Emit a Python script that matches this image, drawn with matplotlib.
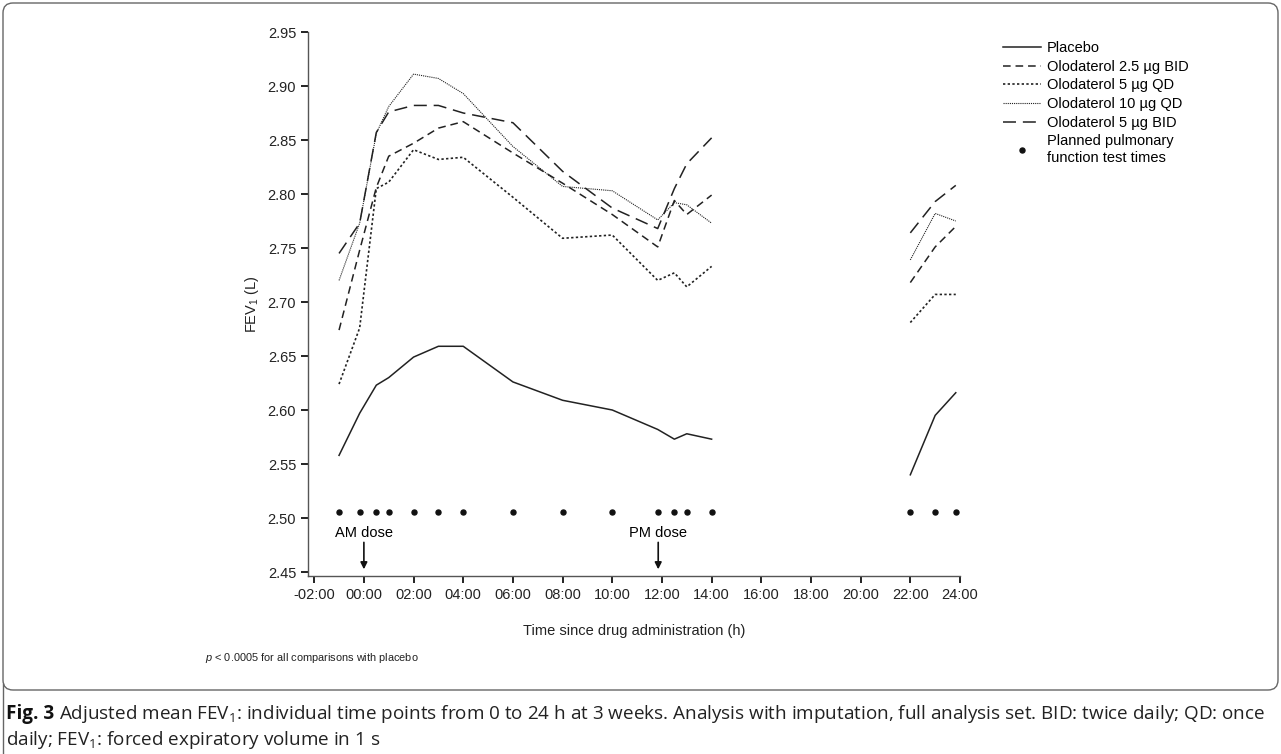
import numpy as np
import matplotlib
matplotlib.use("Agg")
import matplotlib.pyplot as plt
from matplotlib.lines import Line2D
from matplotlib.patches import FancyBboxPatch

plt.rcParams['font.family'] = ['Liberation Sans', 'DejaVu Sans']
plt.rcParams['mathtext.fontset'] = 'custom'
plt.rcParams['mathtext.rm'] = 'Liberation Sans'
plt.rcParams['mathtext.it'] = 'Liberation Sans:italic'

# time points (h) of the pulmonary function tests
times = [-1, -0.17, 0.5, 1, 2, 3, 4, 6, 8, 10, 11.83, 12.5, 13, 14, 22, 23, 23.83]
n_day = 14  # first block is 0-14 h, then the 22-24 h block

placebo = [2.558, 2.597, 2.623, 2.630, 2.649, 2.659, 2.659, 2.626, 2.609, 2.600,
           2.582, 2.573, 2.578, 2.573, 2.540, 2.595, 2.616]
olo_25_bid = [2.674, 2.748, 2.806, 2.835, 2.847, 2.861, 2.867, 2.838, 2.810, 2.781,
              2.751, 2.794, 2.781, 2.799, 2.718, 2.751, 2.770]
olo_5_qd = [2.624, 2.676, 2.805, 2.811, 2.841, 2.832, 2.834, 2.797, 2.759, 2.762,
            2.720, 2.727, 2.714, 2.733, 2.681, 2.707, 2.707]
olo_10_qd = [2.720, 2.773, 2.856, 2.881, 2.911, 2.907, 2.893, 2.844, 2.807, 2.803,
             2.776, 2.792, 2.790, 2.773, 2.739, 2.782, 2.775]
olo_5_bid = [2.745, 2.773, 2.857, 2.876, 2.882, 2.882, 2.875, 2.866, 2.821, 2.787,
             2.768, 2.805, 2.828, 2.852, 2.764, 2.793, 2.808]
pft_level = 2.506

x_ticks = list(range(-2, 25, 2))
x_labels = ['-02:00'] + ['%02d:00' % h for h in range(0, 25, 2)]
y_ticks = [2.45, 2.50, 2.55, 2.60, 2.65, 2.70, 2.75, 2.80, 2.85, 2.90, 2.95]

series = [
    ('Placebo', placebo, dict(linestyle='-', lw=1.1)),
    ('Olodaterol 2.5 \u00b5g BID', olo_25_bid, dict(lw=1.1, dashes=(5, 3.2))),
    ('Olodaterol 5 \u00b5g QD', olo_5_qd, dict(lw=1.2, dashes=(1.4, 1.4))),
    ('Olodaterol 10 \u00b5g QD', olo_10_qd, dict(lw=0.8, dashes=(1, 0.9))),
    ('Olodaterol 5 \u00b5g BID', olo_5_bid, dict(lw=1.1, dashes=(8.5, 4.5))),
]

fig = plt.figure(figsize=(12.81, 7.54), dpi=100)
ax = fig.add_axes([308 / 1281, 1 - 576 / 754, (960 - 308) / 1281, (576 - 32) / 754])

t = np.array(times)
for label, vals, style in series:
    v = np.array(vals)
    ax.plot(t[:n_day], v[:n_day], color='#222222', label=label, **style)
    ax.plot(t[n_day:], v[n_day:], color='#222222', **style)

ax.plot(times, [pft_level] * len(times), 'o', color='#111111', ms=3.6, ls='none',
        label='Planned pulmonary\nfunction test times')

ax.annotate('AM dose', xy=(0, 2.4525), xytext=(0, 2.480), ha='center', va='bottom',
            fontsize=10.5, arrowprops=dict(arrowstyle='-|>', color='#111111', lw=1.2,
                                           mutation_scale=10, shrinkA=0, shrinkB=0))
ax.annotate('PM dose', xy=(11.85, 2.4525), xytext=(11.85, 2.480), ha='center', va='bottom',
            fontsize=10.5, arrowprops=dict(arrowstyle='-|>', color='#111111', lw=1.2,
                                           mutation_scale=10, shrinkA=0, shrinkB=0))

ax.set_xlim(-2.25, 24)
ax.set_ylim(2.4463, 2.95)
ax.set_xticks(x_ticks)
ax.set_xticklabels(x_labels)
ax.set_yticks(y_ticks)
ax.set_yticklabels(['%.2f' % y for y in y_ticks])
ax.tick_params(direction='out', length=5, width=1.4, labelsize=10.5, color='#222222',
               labelcolor='#222222')
for s in ['top', 'right']:
    ax.spines[s].set_visible(False)
for s in ['left', 'bottom']:
    ax.spines[s].set_color('#555555')
    ax.spines[s].set_linewidth(1.0)

ax.set_xlabel('Time since drug administration (h)', fontsize=10.5, labelpad=16,
              color='#222222')
ax.set_ylabel('FEV$_1$ (L)', fontsize=10.5, labelpad=5, color='#222222')

ax.legend(loc='upper left', bbox_to_anchor=(1003 / 1281, 1 - 41 / 754),
          bbox_transform=fig.transFigure, frameon=False, fontsize=10.5,
          handlelength=2.6, handletextpad=0.4, labelspacing=0.32, borderpad=0,
          borderaxespad=0)

fig.text(205 / 1281, 1 - 658 / 754, '$p$ < 0.0005 for all comparisons with placebo',
         fontsize=7.9, va='center', color='#222222')

# frame around the figure panel
box = FancyBboxPatch((3, 64), 1275, 687, boxstyle='round,pad=0,rounding_size=10',
                     transform=None, fill=False, ec='#666666', lw=1.0)
fig.add_artist(box)
fig.add_artist(Line2D([3, 3], [0, 70], transform=None, color='#666666', lw=1.0))

cap = ['Open Sans', 'DejaVu Sans']
fig_lbl = fig.text(6 / 1281, 1 - 714 / 754, 'Fig. 3', fontsize=13.6, fontweight='bold',
                   family=cap, va='center', color='#111111')
renderer = fig.canvas.get_renderer()
x_end = fig_lbl.get_window_extent(renderer).x1
fig.text((x_end + 5) / 1281, 1 - 714 / 754,
         'Adjusted mean FEV$_\\mathregular{1}$: individual time points from 0 to 24 h at 3 weeks. '
         'Analysis with imputation, full analysis set. BID: twice daily; QD: once',
         fontsize=13.6, family=cap, va='center', color='#222222')
fig.text(6 / 1281, 1 - 740 / 754,
         'daily; FEV$_\\mathregular{1}$: forced expiratory volume in 1 s',
         fontsize=13.6, family=cap, va='center', color='#222222')

fig.savefig('out.png', dpi=100)
